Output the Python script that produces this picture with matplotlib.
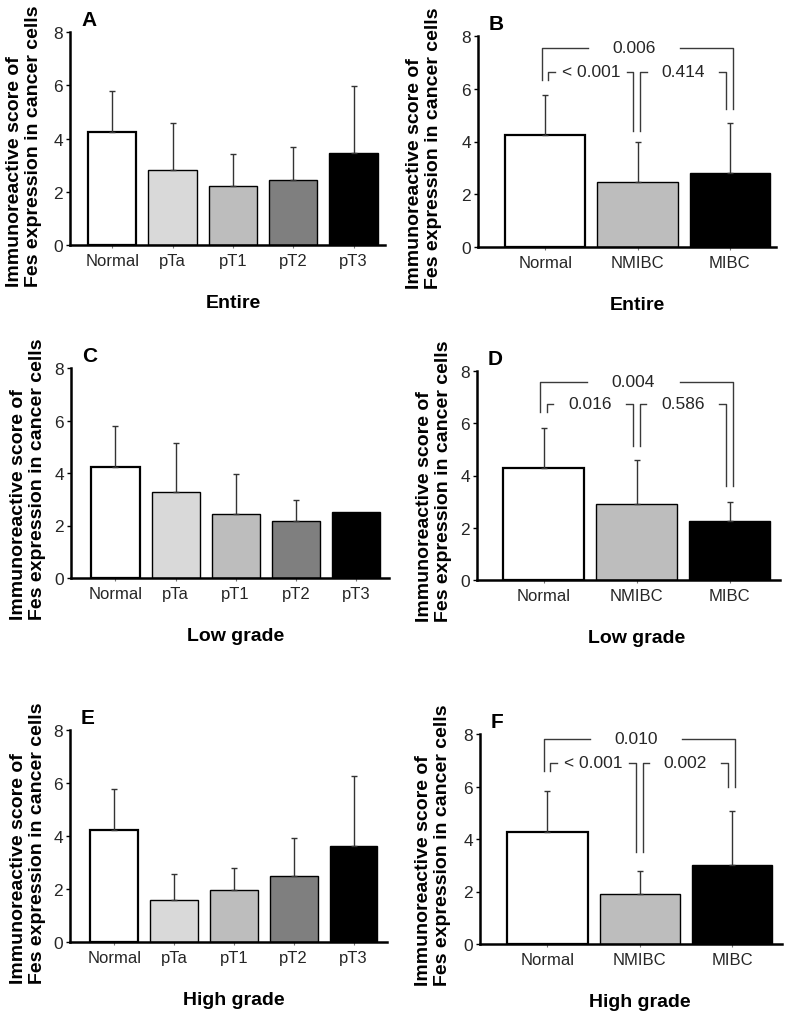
import matplotlib
matplotlib.use("Agg")
import matplotlib.pyplot as plt
import numpy as np

plt.rcParams['font.family'] = ['Liberation Sans', 'DejaVu Sans']

# ---------------- data ----------------
stages = ["Normal", "pTa", "pT1", "pT2", "pT3"]
groups = ["Normal", "NMIBC", "MIBC"]

entire_stage_mean = [4.24, 2.80, 2.21, 2.43, 3.46]
entire_stage_upper = [5.78, 4.58, 3.41, 3.67, 5.97]
entire_group_mean = [4.24, 2.46, 2.80]
entire_group_upper = [5.78, 3.98, 4.72]

low_stage_mean = [4.24, 3.28, 2.44, 2.16, 2.52]
low_stage_upper = [5.80, 5.13, 3.96, 2.99, None]
low_group_mean = [4.28, 2.89, 2.27]
low_group_upper = [5.83, 4.60, 2.98]

high_stage_mean = [4.23, 1.58, 1.98, 2.49, 3.63]
high_stage_upper = [5.79, 2.58, 2.80, 3.93, 6.28]
high_group_mean = [4.27, 1.89, 3.01]
high_group_upper = [5.82, 2.78, 5.08]

# p-values: [Normal vs NMIBC, NMIBC vs MIBC, Normal vs MIBC]
entire_p = ["< 0.001", "0.414", "0.006"]
low_p = ["0.016", "0.586", "0.004"]
high_p = ["< 0.001", "0.002", "0.010"]
# bracket heights: [outer top, inner top]
entire_brk = [7.55, 6.65]
low_brk = [7.59, 6.74]
high_brk = [7.81, 6.90]
# bracket leg bottoms: [Normal, NMIBC, MIBC]
entire_legs = [6.33, 4.41, 5.23]
low_legs = [6.43, 5.13, 3.60]
high_legs = [6.59, 3.50, 5.98]

subtitles = ["Entire", "Low grade", "High grade"]
ylabel = "Immunoreactive score of\nFes expression in cancer cells"

stage_colors = ["white", "#d9d9d9", "#bdbdbd", "#7f7f7f", "black"]
group_colors = ["white", "#bdbdbd", "black"]

# ---------------- figure ----------------
W, H = 787, 1012
fig = plt.figure(figsize=(W / 100, H / 100), dpi=100)


def box(x0, x1, ytop, ybot):
    return [x0 / W, 1 - ybot / H, (x1 - x0) / W, (ybot - ytop) / H]


panels = [
    dict(letter="A", rect=box(70, 385, 33, 246), cats=stages, mean=entire_stage_mean,
         upper=entire_stage_upper, colors=stage_colors, sub=subtitles[0], ylx=24, width=0.8,
         xlim=(-0.70, 4.52)),
    dict(letter="B", rect=box(478, 776, 37, 248), cats=groups, mean=entire_group_mean,
         upper=entire_group_upper, colors=group_colors, sub=subtitles[0], ylx=424, width=0.87,
         xlim=(-0.73, 2.50), p=entire_p, brk=entire_brk, legs=entire_legs),
    dict(letter="C", rect=box(71, 389, 369, 579), cats=stages, mean=low_stage_mean,
         upper=low_stage_upper, colors=stage_colors, sub=subtitles[1], ylx=28, width=0.8,
         xlim=(-0.74, 4.55)),
    dict(letter="D", rect=box(477, 780, 372, 581), cats=groups, mean=low_group_mean,
         upper=low_group_upper, colors=group_colors, sub=subtitles[1], ylx=434, width=0.87,
         xlim=(-0.72, 2.54), p=low_p, brk=low_brk, legs=low_legs),
    dict(letter="E", rect=box(70, 387, 731, 943), cats=stages, mean=high_stage_mean,
         upper=high_stage_upper, colors=stage_colors, sub=subtitles[2], ylx=28, width=0.8,
         xlim=(-0.74, 4.56)),
    dict(letter="F", rect=box(480, 782, 735, 945), cats=groups, mean=high_group_mean,
         upper=high_group_upper, colors=group_colors, sub=subtitles[2], ylx=433, width=0.87,
         xlim=(-0.73, 2.54), p=high_p, brk=high_brk, legs=high_legs),
]

txt_color = "#262626"
line_color = "#3a3a3a"

for pn in panels:
    ax = fig.add_axes(pn["rect"])
    x = np.arange(len(pn["cats"]))
    lws = [1.6] + [1.0] * (len(x) - 1)
    ax.bar(x, pn["mean"], pn["width"], color=pn["colors"], edgecolor="black",
           linewidth=lws, zorder=2)
    for i, (m, u) in enumerate(zip(pn["mean"], pn["upper"])):
        if u is None:
            continue
        ax.errorbar(x[i], m, yerr=[[0], [u - m]], fmt="none", ecolor="#333333",
                    elinewidth=1.0, capsize=2, capthick=1.0, zorder=3)
    ax.set_ylim(0, 8)
    ax.set_xlim(*pn["xlim"])
    ax.set_yticks([0, 2, 4, 6, 8])
    ax.set_xticks(x, pn["cats"])
    for s in ["top", "right"]:
        ax.spines[s].set_visible(False)
    for s in ["left", "bottom"]:
        ax.spines[s].set_linewidth(1.8)
        ax.spines[s].set_zorder(4)
    ax.tick_params(axis="y", direction="out", length=3, width=1.0, pad=2,
                   labelsize=12.5, labelcolor=txt_color)
    ax.tick_params(axis="x", direction="out", length=2, width=0.8, color="#777777",
                   pad=4, labelsize=12, labelcolor=txt_color)
    ax.set_facecolor("none")

    # panel letter
    ax.annotate(pn["letter"], xy=(0, 1), xycoords="axes fraction", xytext=(11, 7),
                textcoords="offset pixels", ha="left", va="baseline",
                fontsize=15, fontweight="bold", color="black")
    # subtitle / x label
    ax.annotate(pn["sub"], xy=(np.mean(x), 0), xycoords=("data", "axes fraction"),
                xytext=(0, -62), textcoords="offset pixels", ha="center",
                va="baseline", fontsize=14, fontweight="bold", color="black",
                annotation_clip=False)
    # y label
    ybot_px = (1 - pn["rect"][1]) * H
    fig.text(pn["ylx"] / W, 1 - (ybot_px + 41) / H, ylabel, rotation=90,
             ha="center", va="bottom", multialignment="left", fontsize=14,
             fontweight="bold", linespacing=1.2, color="black")

    # significance brackets
    if "p" in pn:
        outer_top, inner_top = pn["brk"]
        legs = pn["legs"]
        kw = dict(color=line_color, lw=1.0, clip_on=False, zorder=5)

        def bracket(x1, x2, y, b1, b2, label, halfgap, tx=None):
            mid = (x1 + x2) / 2 if tx is None else tx
            ax.plot([x1, x1, mid - halfgap], [b1, y, y], **kw)
            ax.plot([mid + halfgap, x2, x2], [y, y, b2], **kw)
            ax.text(mid, y, label, ha="center", va="center", fontsize=12.5,
                    color=txt_color, clip_on=False, zorder=6)

        # outer: Normal vs MIBC
        bracket(x[0] - 0.04, x[2] + 0.03, outer_top, legs[0], legs[2], pn["p"][2], 0.5,
                tx=0.96)
        # inner left: Normal vs NMIBC
        bracket(x[0] + 0.03, x[1] - 0.045, inner_top, legs[0], legs[1], pn["p"][0], 0.39)
        # inner right: NMIBC vs MIBC
        bracket(x[1] + 0.03, x[2] - 0.045, inner_top, legs[1], legs[2], pn["p"][1], 0.39)

fig.savefig("out.png", dpi=100, facecolor="white")
